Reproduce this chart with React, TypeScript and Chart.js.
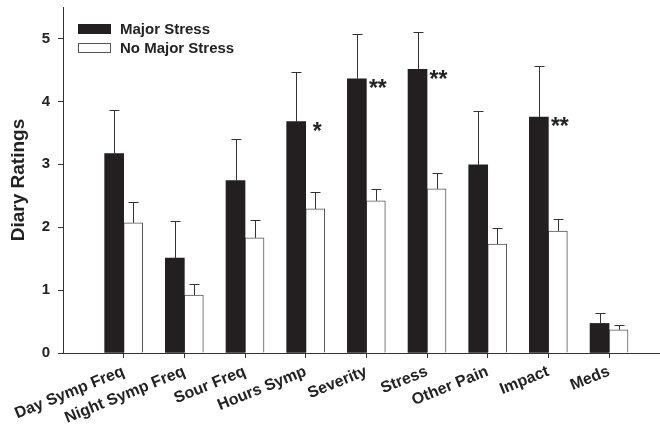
import React, { useEffect, useRef } from 'react';
import { Chart, registerables } from 'chart.js';

Chart.register(...registerables);

const CATEGORIES = [
  'Day Symp Freq',
  'Night Symp Freq',
  'Sour Freq',
  'Hours Symp',
  'Severity',
  'Stress',
  'Other Pain',
  'Impact',
  'Meds',
];
const SERIES_LABELS = ['Major Stress', 'No Major Stress'];
const MAJOR_STRESS = [3.17, 1.51, 2.74, 3.68, 4.36, 4.51, 2.99, 3.75, 0.47];
const MAJOR_STRESS_ERR = [0.7, 0.59, 0.66, 0.79, 0.71, 0.59, 0.85, 0.81, 0.16];
const NO_MAJOR_STRESS = [2.07, 0.92, 1.83, 2.29, 2.42, 2.61, 1.73, 1.94, 0.37];
const NO_MAJOR_STRESS_ERR = [0.33, 0.18, 0.28, 0.27, 0.18, 0.25, 0.26, 0.19, 0.08];
const SIGNIFICANCE = ['', '', '', '*', '**', '**', '', '**', ''];
const Y_TITLE = 'Diary Ratings';

const FONT = '"Liberation Sans", Arial, Helvetica, sans-serif';
const INK = '#222';
const AXIS = '#333';

export default function App() {
  const ref = useRef<HTMLCanvasElement>(null);

  useEffect(() => {
    const errs = [MAJOR_STRESS_ERR, NO_MAJOR_STRESS_ERR];

    const errorBars = {
      id: 'errorBars',
      afterDatasetsDraw(chart: any) {
        const ctx = chart.ctx;
        const y = chart.scales.y;
        ctx.save();
        ctx.strokeStyle = AXIS;
        ctx.lineWidth = 1;
        chart.data.datasets.forEach((ds: any, di: number) => {
          const meta = chart.getDatasetMeta(di);
          meta.data.forEach((bar: any, j: number) => {
            const v = ds.data[j].y;
            const top = y.getPixelForValue(v + errs[di][j]);
            const x = Math.round(bar.x) + 0.5;
            const yt = Math.round(top) + 0.5;
            ctx.beginPath();
            ctx.moveTo(x, bar.y);
            ctx.lineTo(x, yt);
            ctx.moveTo(x - 5, yt);
            ctx.lineTo(x + 5, yt);
            ctx.stroke();
          });
        });
        ctx.restore();
      },
    };

    const sigMarks = {
      id: 'sigMarks',
      afterDatasetsDraw(chart: any) {
        const ctx = chart.ctx;
        const m0 = chart.getDatasetMeta(0);
        const m1 = chart.getDatasetMeta(1);
        ctx.save();
        ctx.fillStyle = INK;
        ctx.font = `bold 23px ${FONT}`;
        ctx.textAlign = 'center';
        ctx.textBaseline = 'middle';
        SIGNIFICANCE.forEach((s, j) => {
          if (!s) return;
          const black = m0.data[j];
          const white = m1.data[j];
          ctx.fillText(s, white.x + 2, black.y + 11);
        });
        ctx.restore();
      },
    };

    const insideLegend = {
      id: 'insideLegend',
      afterDraw(chart: any) {
        const ctx = chart.ctx;
        const area = chart.chartArea;
        ctx.save();
        ctx.font = `bold 15px ${FONT}`;
        ctx.textBaseline = 'middle';
        ctx.textAlign = 'left';
        chart.data.datasets.forEach((ds: any, i: number) => {
          const bx = area.left + 15;
          const by = area.top + 17 + i * 19;
          ctx.fillStyle = ds.backgroundColor;
          ctx.fillRect(bx, by, 33, 10);
          if (ds.borderWidth) {
            ctx.strokeStyle = ds.borderColor;
            ctx.lineWidth = 1;
            ctx.strokeRect(bx + 0.5, by + 0.5, 32, 9);
          }
          ctx.fillStyle = INK;
          ctx.fillText(ds.label, bx + 42, by + 5.5);
        });
        ctx.restore();
      },
    };

    const chart = new Chart(ref.current!, {
      type: 'bar',
      data: {
        datasets: [
          {
            label: SERIES_LABELS[0],
            data: MAJOR_STRESS.map((v, i) => ({ x: i + 1, y: v })),
            backgroundColor: '#231f20',
            borderColor: '#231f20',
            borderWidth: 0,
            barThickness: 19,
          },
          {
            label: SERIES_LABELS[1],
            data: NO_MAJOR_STRESS.map((v, i) => ({ x: i + 1, y: v })),
            backgroundColor: '#ffffff',
            borderColor: '#555',
            borderWidth: 1,
            barThickness: 19,
          },
        ],
      } as any,
      options: {
        responsive: false,
        animation: false,
        layout: { padding: { top: 7, right: 0, left: 0, bottom: 0 } },
        plugins: {
          legend: { display: false },
          tooltip: { enabled: false },
        },
        scales: {
          x: {
            type: 'linear',
            min: 0,
            max: 9.84,
            offset: false,
            afterBuildTicks: (s: any) => {
              s.ticks = CATEGORIES.map((_, i) => ({ value: i + 1 }));
            },
            afterFit: (s: any) => {
              s.height = 77;
              s.paddingLeft = 0;
              s.paddingRight = 0;
            },
            grid: {
              display: true,
              offset: false,
              drawOnChartArea: false,
              drawTicks: true,
              tickLength: 5,
              color: AXIS,
            },
            border: { display: true, color: AXIS, width: 1 },
            ticks: {
              autoSkip: false,
              minRotation: 22,
              maxRotation: 22,
              padding: 4,
              color: INK,
              font: { family: FONT, size: 16, weight: 'bold' },
              callback: (v: any) => CATEGORIES[Number(v) - 1] ?? '',
            },
          },
          y: {
            min: 0,
            max: 5.5,
            afterFit: (s: any) => {
              s.width = 63;
              s.paddingTop = 0;
              s.paddingBottom = 0;
            },
            grid: {
              display: true,
              drawOnChartArea: false,
              drawTicks: true,
              tickLength: 5,
              color: AXIS,
            },
            border: { display: true, color: AXIS, width: 1 },
            ticks: {
              stepSize: 1,
              includeBounds: false,
              padding: 8,
              color: INK,
              font: { family: FONT, size: 15, weight: 'bold' },
            },
            title: {
              display: true,
              text: Y_TITLE,
              color: INK,
              font: { family: FONT, size: 19, weight: 'bold' },
              padding: { top: 7, bottom: 0 },
            },
          },
        },
      } as any,
      plugins: [errorBars, sigMarks, insideLegend],
    });
    return () => chart.destroy();
  }, []);

  return (
    <div style={{ position: 'fixed', left: 0, top: 0, width: 660, height: 430, background: '#fff' }}>
      <canvas ref={ref} width={660} height={430} style={{ display: 'block' }} />
    </div>
  );
}
